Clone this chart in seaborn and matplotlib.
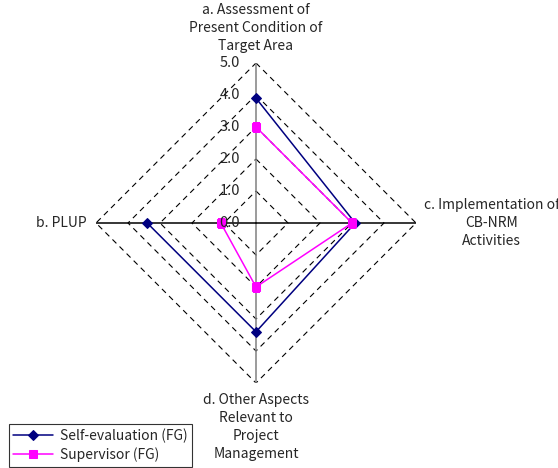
import numpy as np
import pandas as pd
import matplotlib
matplotlib.use("Agg")
import matplotlib.pyplot as plt
import matplotlib.transforms as mtransforms
import seaborn as sns

# clockwise from the top, like the Excel radar
categories = ["a. Assessment of\nPresent Condition of\nTarget Area",
              "c. Implementation of\nCB-NRM\nActivities",
              "d. Other Aspects\nRelevant to\nProject\nManagement",
              "b. PLUP"]
self_eval = [3.9, 3.1, 3.4, 3.4]
supervisor = [3.0, 3.0, 2.0, 1.1]
levels = [1, 2, 3, 4, 5]
tick_labels = ["0.0", "1.0", "2.0", "3.0", "4.0", "5.0"]

sns.set_theme(style="white")
plt.rcParams['font.family'] = ['Noto Sans CJK JP', 'DejaVu Sans']
plt.rcParams['font.size'] = 10

fig = plt.figure(figsize=(5.58, 4.68), dpi=100)
ax = fig.add_axes([96 / 558, 85 / 468, 320 / 558, 320 / 468], projection="polar")
ax.set_theta_offset(np.pi / 2)
ax.set_theta_direction(-1)
ax.set_ylim(0, 5)
ax.grid(False)
ax.spines["polar"].set_visible(False)
ax.set_xticks([])
ax.set_yticks([])
ax.patch.set_alpha(0)

theta = np.arange(len(categories)) * 2 * np.pi / len(categories)
closed = np.append(theta, theta[0])

# dashed diamond grid
for lv in levels:
    ax.plot(closed, [lv] * len(closed), color="black", lw=0.8, ls=(0, (5, 4)), zorder=1)

# spokes
ax.plot([theta[0], theta[0]], [0, 5], color="#808080", lw=1.1, zorder=2)
ax.plot([theta[2], theta[2]], [0, 5], color="#808080", lw=1.1, zorder=2)
ax.plot([theta[1], theta[1]], [0, 5], color="black", lw=1.1, zorder=2)
ax.plot([theta[3], theta[3]], [0, 5], color="black", lw=1.1, zorder=2)

df_self = pd.DataFrame({"theta": closed, "r": self_eval + self_eval[:1]})
df_sup = pd.DataFrame({"theta": closed, "r": supervisor + supervisor[:1]})

sns.lineplot(data=df_self, x="theta", y="r", sort=False, ax=ax, color="#000080",
             lw=1.1, marker="D", markersize=5.5, markeredgecolor="#000080",
             label="Self-evaluation (FG)", legend=False, zorder=4)
sns.lineplot(data=df_sup, x="theta", y="r", sort=False, ax=ax, color="#FF00FF",
             lw=1.1, marker="s", markersize=5.5, markeredgecolor="#FF00FF",
             label="Supervisor (FG)", legend=False, zorder=5)
ax.set_xlabel("")
ax.set_ylabel("")
ax.set_ylim(0, 5)

# radial tick labels along the top spoke
off = ax.transData + mtransforms.ScaledTranslation(-0.16, 0, fig.dpi_scale_trans)
for i, t in enumerate(tick_labels):
    ax.text(theta[0], i, t, transform=off, ha="right", va="center", fontsize=10.5, zorder=6)

# category labels
ax.text(theta[0], 5.3, categories[0], ha="center", va="bottom", multialignment="center",
        linespacing=1.38, fontsize=10)
ax.text(theta[1], 5.25, categories[1], ha="left", va="center", multialignment="center",
        linespacing=1.38, fontsize=10)
ax.text(theta[2], 5.3, categories[2], ha="center", va="top", multialignment="center",
        linespacing=1.38, fontsize=10)
ax.text(theta[3], 5.3, categories[3], ha="right", va="center", fontsize=10)

handles, labels = ax.get_legend_handles_labels()
leg = fig.legend(handles, labels, loc="upper left", bbox_to_anchor=(9 / 558, 44 / 468),
                 frameon=True, fancybox=False, edgecolor="black", fontsize=10,
                 handlelength=2.9, handletextpad=0.5, borderaxespad=0, borderpad=0.3,
                 labelspacing=0.35)
leg.get_frame().set_linewidth(0.8)

fig.savefig("out.png", dpi=100)
